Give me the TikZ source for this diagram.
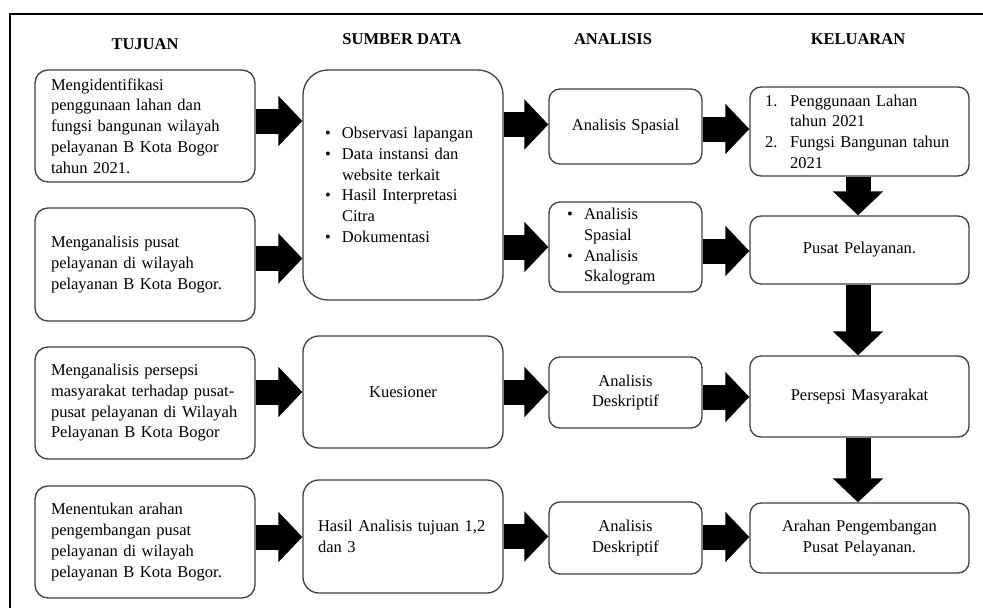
\documentclass[tikz,border=0pt]{standalone}
\usepackage{fontspec}
\setmainfont{Liberation Serif}
\usetikzlibrary{arrows.meta,calc}
\newcommand\fs{\fontsize{16.5}{20.7}\selectfont}
\newcommand\bul{\makebox[17pt][l]{\textbullet}}
\newcommand\ind{\hspace*{17pt}}
\tikzset{
  box/.style={draw=black!75, line width=1.3pt, rounded corners=13pt, font=\fs, inner ysep=0pt},
  hdr/.style={font=\fs\bfseries},
  barrow/.style={line width=25pt, black, -{Triangle[width=49pt,length=24pt]}},
}
\begin{document}
\begin{tikzpicture}[x=1pt,y=-1pt]
\useasboundingbox (0,0) rectangle (983,608);
\fill[white] (0,0) rectangle (983,608);
\draw[line width=1.5pt] (983,14) -- (10,14) -- (10,608);

% headers
\node[hdr] (h1) at (145,44) {TUJUAN};
\node[hdr] (h2) at (402,39) {SUMBER DATA};
\node[hdr] (h3) at (613,39) {ANALISIS};
\node[hdr] (h4) at (858,39) {KELUARAN};

% tujuan
\node[box, text width=188pt, inner xsep=16pt, minimum height=112pt, align=left] (T1) at (145,126)
 {Mengidentifikasi\\penggunaan lahan dan\\fungsi bangunan wilayah\\pelayanan B Kota Bogor\\tahun 2021.};
\node[box, text width=188pt, inner xsep=16pt, minimum height=113pt, align=left] (T2) at (145,264.5)
 {Menganalisis pusat\\pelayanan di wilayah\\pelayanan B Kota Bogor.};
\node[box, text width=188pt, inner xsep=16pt, minimum height=112pt, align=left] (T3) at (145,403)
 {Menganalisis persepsi\\masyarakat terhadap pusat-\\pusat pelayanan di Wilayah\\Pelayanan B Kota Bogor};
\node[box, text width=188pt, inner xsep=16pt, minimum height=112pt, align=left] (T4) at (145,542)
 {Menentukan arahan\\pengembangan pusat\\pelayanan di wilayah\\pelayanan B Kota Bogor.};

% sumber data
\node[box, rounded corners=25pt, text width=156pt, inner xsep=22pt, minimum height=230pt, align=left] (S1) at (403,185)
 {\bul Observasi lapangan\\\bul Data instansi dan\\\ind website terkait\\\bul Hasil Interpretasi\\\ind Citra\\\bul Dokumentasi};
\node[box, rounded corners=16pt, text width=170pt, inner xsep=15pt, minimum height=112pt, align=center] (S2) at (403,392)
 {Kuesioner};
\node[box, rounded corners=16pt, text width=170pt, inner xsep=15pt, minimum height=113pt, align=left] (S3) at (403,536.5)
 {Hasil Analisis tujuan 1,2\\dan 3};

% analisis
\node[box, rounded corners=11pt, text width=133pt, inner xsep=10pt, minimum height=75pt, align=center] (A1) at (625.5,126.5)
 {Analisis Spasial};
\node[box, rounded corners=11pt, text width=117pt, inner xsep=18pt, minimum height=90pt, align=left] (A2) at (625.5,247)
 {\bul Analisis\\\ind Spasial\\\bul Analisis\\\ind Skalogram};
\node[box, rounded corners=11pt, text width=133pt, inner xsep=10pt, minimum height=71pt, align=center] (A3) at (625.5,392.5)
 {Analisis\\Deskriptif};
\node[box, rounded corners=11pt, text width=133pt, inner xsep=10pt, minimum height=72pt, align=center] (A4) at (625.5,538)
 {Analisis\\Deskriptif};

% keluaran
\node[box, rounded corners=11pt, text width=189pt, inner xsep=15pt, minimum height=89pt, align=left] (K1) at (859.5,131.5)
 {\makebox[25pt][l]{1.}Penggunaan Lahan\\\hspace*{25pt}tahun 2021\\\makebox[25pt][l]{2.}Fungsi Bangunan tahun\\\hspace*{25pt}2021};
\node[box, rounded corners=11pt, text width=189pt, inner xsep=15pt, minimum height=68pt, align=center] (K2) at (859.5,250)
 {Pusat Pelayanan.};
\node[box, rounded corners=11pt, text width=189pt, inner xsep=15pt, minimum height=81pt, align=center] (K3) at (859.5,396.5)
 {Persepsi Masyarakat};
\node[box, rounded corners=11pt, text width=189pt, inner xsep=15pt, minimum height=70pt, align=center] (K4) at (859.5,538)
 {Arahan Pengembangan\\Pusat Pelayanan.};

% block arrows
\draw[barrow] ([yshift=5pt]T1.east) -- ([yshift=5pt]T1.east -| S1.west);
\draw[barrow] ([yshift=6pt]T2.east) -- ([yshift=6pt]T2.east -| S1.west);
\draw[barrow] ([yshift=11pt]T3.east) -- ([yshift=11pt]T3.east -| S2.west);
\draw[barrow] ([yshift=5pt]T4.east) -- ([yshift=5pt]T4.east -| S3.west);

\draw[barrow] ([yshift=2pt]A1.west -| S1.east) -- ([yshift=2pt]A1.west);
\draw[barrow] (A2.west -| S1.east) -- (A2.west);
\draw[barrow] (S2.east) -- (S2.east -| A3.west);
\draw[barrow] (S3.east) -- (S3.east -| A4.west);

\draw[barrow] ([yshift=-2.5pt]A1.east) -- ([yshift=-2.5pt]A1.east -| K1.west);
\draw[barrow] ([yshift=-4pt]A2.east) -- ([yshift=-4pt]A2.east -| K2.west);
\draw[barrow] ([yshift=-4.5pt]A3.east) -- ([yshift=-4.5pt]A3.east -| K3.west);
\draw[barrow] ([yshift=1pt]A4.east) -- ([yshift=1pt]A4.east -| K4.west);

\draw[barrow] ([xshift=-1.5pt]K1.south) -- ([xshift=-1.5pt]K2.north);
\draw[barrow] ([xshift=-1.5pt]K2.south) -- ([xshift=-1.5pt]K3.north);
\draw[barrow] ([xshift=-1.5pt]K3.south) -- ([xshift=-1.5pt]K4.north);
\end{tikzpicture}
\end{document}
